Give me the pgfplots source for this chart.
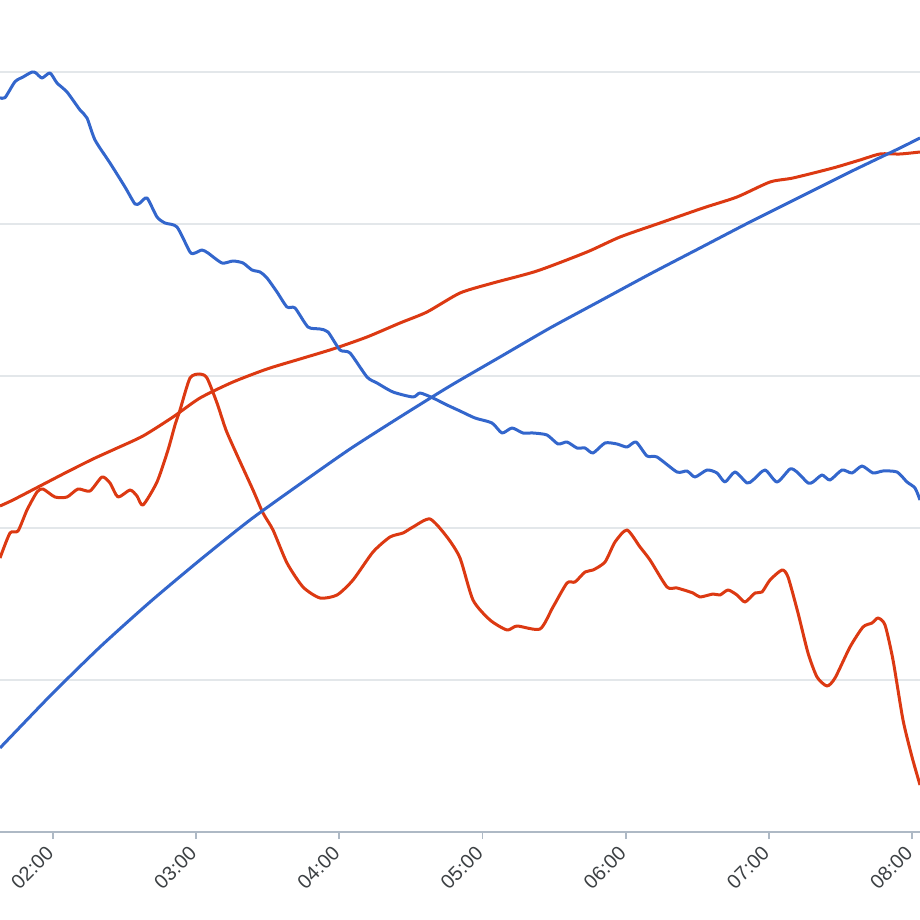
\documentclass[border=0pt]{standalone}
\usepackage{fontspec}
\setmainfont{Liberation Sans}
\usepackage{pgfplots}
\usepackage{pgfplotstable}
\pgfplotsset{compat=1.18}
\definecolor{gblue}{HTML}{3366CC}
\definecolor{gred}{HTML}{DC3912}
\definecolor{gridc}{HTML}{E3E7EA}
\definecolor{axc}{HTML}{AEB9C5}
\definecolor{lblc}{HTML}{3C4043}
% data in pixel positions (px, py)
\pgfplotstableread{
px py
0 97.7
5 97.7
15 81.7
23 77
32 72
36 73
42 78
50 73
57 83
67 92
80 110
87 118
95 140
110 163
125 187
135 204
140 203
147 198
157 217
165 223
177 227
190 252
195 253
202 250
208 253
222 263
233 261
243 263
252 270
260 272
267 278
277 292
287 307
295 308
308 327
320 329
328 332
340 350
350 353
367 377
377 383
393 392
413 397
420 393
433 398
447 405
460 411
475 418
492 423
502 433
512 428
523 433
533 433
547 435
558 444
567 442
577 448
585 448
593 453
605 443
617 444
627 447
636 442
647 456
657 457
677 472
687 471
695 477
707 470
717 473
725 482
735 472
747 483
753 480
765 470
777 482
790 469
797 472
808 483
813 482
822 475
830 480
842 470
852 473
862 466
873 473
883 471
897 472
907 482
915 488
920 500
}\blueA
\pgfplotstableread{
px py
0 748
50 696
100 647
150 602
200 560
250 520
300 484
350 449
400 417
450 386
500 357
550 328
600 301
650 274
700 248
750 222
800 197
850 172
900 148
920 138
}\blueB
\pgfplotstableread{
px py
0 506
13 500
40 486
67 472
93 459
115 449
143 436
173 417
200 398
233 382
267 369
300 359
333 349
367 337
400 323
427 312
460 293
493 283
537 271
587 252
620 237
660 223
703 208
737 197
770 182
793 178
833 168
860 160
880 154
900 154
920 152
}\redA
\pgfplotstableread{
px py
0 558
10 533
18 531
27 510
37 492
43 489
55 497
67 497
78 489
90 491
102 477
110 483
118 497
130 490
137 496
143 505
157 482
168 450
175 425
180 410
190 378
200 374
207 378
217 403
226 430
237 455
253 490
263 513
273 530
287 563
303 587
320 598
337 595
353 580
373 552
390 537
403 533
413 527
430 519
447 537
460 558
473 600
490 620
507 630
517 626
540 629
553 607
567 583
575 582
585 572
593 570
605 562
615 542
627 530
640 547
650 560
667 587
677 588
693 593
700 597
713 594
720 595
728 590
737 595
745 602
755 593
762 592
770 580
782 570
788 577
798 613
808 653
817 677
827 686
835 678
850 647
863 627
872 623
878 618
885 625
893 660
903 720
912 757
920 785
}\redB
\begin{document}
\begin{tikzpicture}
\useasboundingbox (0,-44pt) rectangle (460pt,416pt);
\begin{axis}[
  at={(0,0)}, anchor=south west,
  scale only axis, width=460pt, height=416pt,
  xmin=1.62980, xmax=8.05588,
  ymin=0, ymax=5.47368,
  axis x line*=bottom,
  axis y line*=left,
  y axis line style={draw=none},
  x axis line style={draw=axc, line width=0.9pt},
  xtick={2,3,4,5,6,7,8},
  xticklabels={02:00,03:00,04:00,05:00,06:00,07:00,08:00},
  xtick align=outside,
  major tick length=3.5pt,
  xtick style={draw=axc, line width=0.9pt},
  ytick={1,2,3,4,5},
  yticklabels={},
  ytick style={draw=none},
  ymajorgrids,
  grid style={draw=gridc, line width=0.8pt},
  xticklabel style={rotate=45, anchor=north east, font=\fontsize{10}{12}\selectfont, text=lblc, inner sep=1pt, xshift=-3.8pt, yshift=2pt},
  every axis plot/.append style={line width=1.5pt, line join=round, smooth, tension=0.4},
]
\addplot[gred] table[x expr={2+(\thisrow{px}-53)/143.1667}, y expr={(832-\thisrow{py})/152}] {\redA};
\addplot[gred] table[x expr={2+(\thisrow{px}-53)/143.1667}, y expr={(832-\thisrow{py})/152}] {\redB};
\addplot[gblue] table[x expr={2+(\thisrow{px}-53)/143.1667}, y expr={(832-\thisrow{py})/152}] {\blueB};
\addplot[gblue] table[x expr={2+(\thisrow{px}-53)/143.1667}, y expr={(832-\thisrow{py})/152}] {\blueA};
\end{axis}
\end{tikzpicture}
\end{document}
